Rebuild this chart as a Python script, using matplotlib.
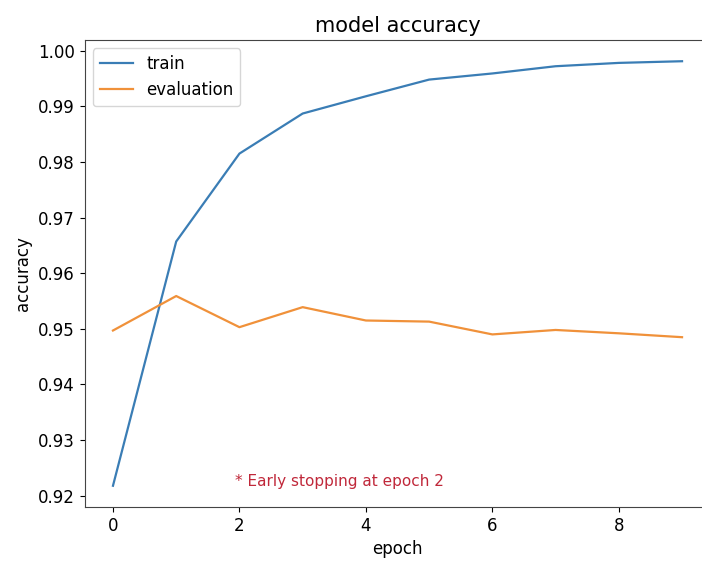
import matplotlib
matplotlib.use("Agg")
import matplotlib.pyplot as plt

# accuracy per epoch
EPOCHS = list(range(10))
TRAIN = [0.9218, 0.9657, 0.9815, 0.9887, 0.9918, 0.9948, 0.9959, 0.9972, 0.9978, 0.9981]
EVAL = [0.9497, 0.9559, 0.9503, 0.9539, 0.9515, 0.9513, 0.9490, 0.9498, 0.9492, 0.9485]
NOTE = "* Early stopping at epoch 2"
NOTE_XY = (1.93, 0.9225)

plt.rcParams["font.size"] = 12

fig = plt.figure(figsize=(7.02, 5.61), dpi=100)
ax = fig.add_axes([0.1204, 0.0963, 0.8917, 0.8324])   # right edge is cut off, as in the reference
ax.plot(EPOCHS, TRAIN, color="#3a7db5", lw=1.6, label="train")
ax.plot(EPOCHS, EVAL, color="#f0913a", lw=1.6, label="evaluation")
ax.text(NOTE_XY[0], NOTE_XY[1], NOTE, color="#c0283a", fontsize=11, va="center")

ax.set_title("model accuracy", fontsize=15)
ax.set_xlabel("epoch")
ax.set_ylabel("accuracy")
ax.set_xticks([0, 2, 4, 6, 8])
ax.set_yticks([0.92, 0.93, 0.94, 0.95, 0.96, 0.97, 0.98, 0.99, 1.00])
ax.legend(loc="upper left")
for s in ax.spines.values():
    s.set_color("#444444")
ax.spines["right"].set_visible(False)   # lies outside the cropped picture

fig.savefig("out.png", dpi=100)
